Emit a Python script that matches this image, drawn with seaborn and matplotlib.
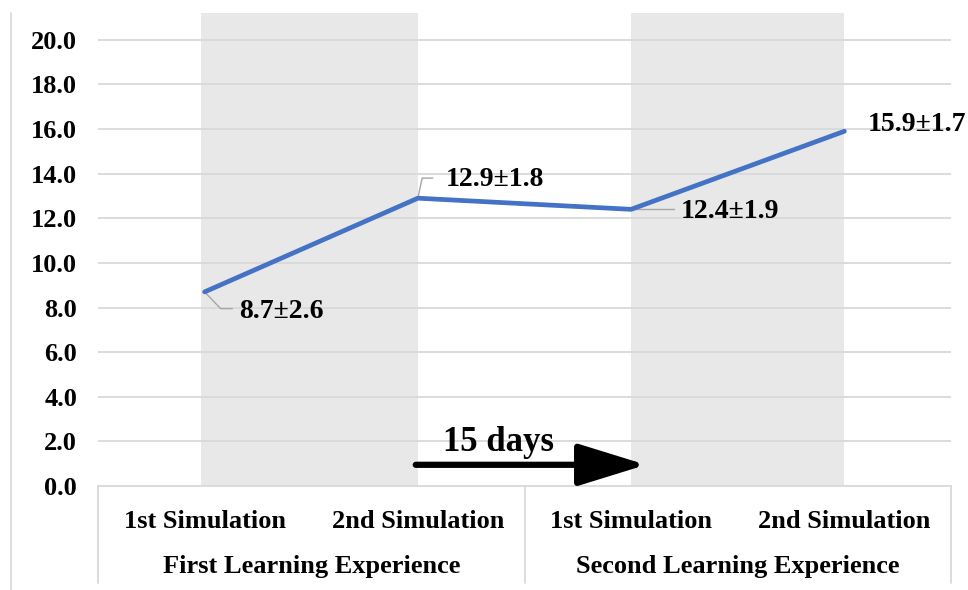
import matplotlib
matplotlib.use("Agg")
import matplotlib.pyplot as plt
from matplotlib.lines import Line2D
import seaborn as sns
import pandas as pd

# chart values
sessions = ["1st Simulation", "2nd Simulation", "1st Simulation", "2nd Simulation"]
experiences = ["First Learning Experience", "Second Learning Experience"]
means = [8.7, 12.9, 12.4, 15.9]
sds = [2.6, 1.8, 1.9, 1.7]
y_ticks = [0, 2, 4, 6, 8, 10, 12, 14, 16, 18, 20]

df = pd.DataFrame({"pos": range(len(means)), "score": means})

sns.set_style("white")
plt.rcParams["font.family"] = ["Liberation Serif", "DejaVu Serif"]
plt.rcParams["font.weight"] = "bold"
plt.rcParams["text.color"] = "black"
plt.rcParams["xtick.color"] = "black"
plt.rcParams["ytick.color"] = "black"

fig = plt.figure(figsize=(9.68, 5.90), dpi=100)
ax = fig.add_axes([98 / 968, 1 - 486 / 590, 853 / 968, 473 / 590])

grid_c = "#d9d9d9"
band_c = "#e8e8e8"
blue = "#4472c4"
fs = 19

# shaded bands between the two simulations of each experience
ax.axvspan(-0.015, 1, color=band_c, zorder=0, lw=0)
ax.axvspan(2, 3, color=band_c, zorder=0, lw=0)

for t in y_ticks[1:]:
    ax.axhline(t, color=grid_c, lw=1.3, zorder=1)

sns.lineplot(data=df, x="pos", y="score", ax=ax, color=blue, lw=3.4,
             zorder=3, solid_capstyle="round")

ax.set_xlim(-0.5, 3.5)
ax.set_ylim(0, 21.2)
ax.set_yticks(y_ticks)
ax.set_yticklabels([f"{t:.1f}" for t in y_ticks], fontsize=fs, fontweight="bold")
ax.tick_params(axis="y", length=0, pad=15)
ax.set_xticks(range(len(sessions)))
ax.set_xticklabels(sessions, fontsize=fs, fontweight="bold")
ax.tick_params(axis="x", length=0, pad=17)
ax.set_xlabel("")
ax.set_ylabel("")
for s in ["top", "right", "left"]:
    ax.spines[s].set_visible(False)
ax.spines["bottom"].set_color(grid_c)
ax.spines["bottom"].set_linewidth(1.3)

# category table separators and group labels
xt = ax.get_xaxis_transform()
for xv in [-0.5, 1.5, 3.5]:
    ax.add_line(Line2D([xv, xv], [0, -0.205], transform=xt, color=grid_c,
                       lw=1.3, clip_on=False))
for i, name in enumerate(experiences):
    ax.text(0.5 + 2 * i, -0.171, name, transform=xt, ha="center", va="center",
            fontsize=fs, fontweight="bold")

# data labels with leader lines
lead_c = "#a6a6a6"
ax.plot([0, 0.075, 0.13], [8.7, 7.95, 7.95], color=lead_c, lw=1, zorder=2)
ax.plot([1, 1.02, 1.07], [12.9, 13.8, 13.8], color=lead_c, lw=1, zorder=2)
ax.plot([2, 2.2], [12.4, 12.4], color=lead_c, lw=1, zorder=2)
label_pos = [(0.16, 7.8), (1.13, 13.75), (2.235, 12.3), (3.11, 16.2)]
for (lx, ly), m, s in zip(label_pos, means, sds):
    ax.text(lx, ly, f"{m}±{s}", ha="left", va="center", fontsize=20,
            fontweight="bold", zorder=4)

# 15 days arrow
ax.annotate("", xy=(2.07, 0.95), xytext=(0.99, 0.95),
            arrowprops=dict(arrowstyle="-|>,head_length=4.2,head_width=1.3",
                            color="black", lw=4.5, shrinkA=0, shrinkB=0),
            zorder=5)
ax.text(1.38, 1.95, "15 days", ha="center", va="center", fontsize=25,
        fontweight="bold", zorder=5)

# left frame edge of the original chart area
fig.add_artist(Line2D([11 / 968, 11 / 968], [0, 1 - 13 / 590], color=grid_c,
                      lw=1.3, transform=fig.transFigure))

fig.savefig("out.png", dpi=100, facecolor="white")
